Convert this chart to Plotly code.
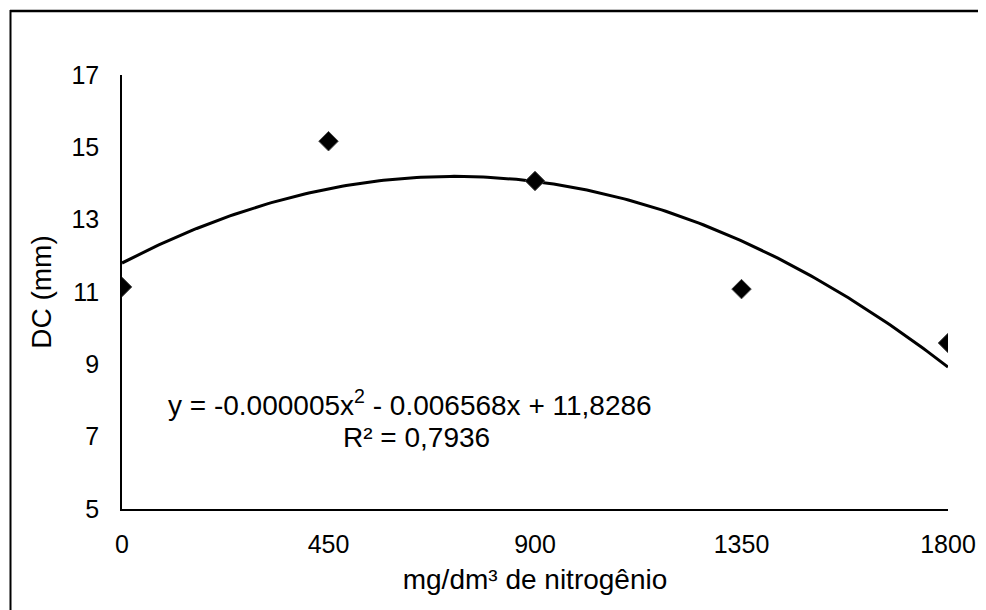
import numpy as np
import plotly.graph_objects as go

# Data
nitrogen = [0, 450, 900, 1350, 1800]
dc_mm = [11.14, 15.17, 14.07, 11.08, 9.59]
x_ticks = [0, 450, 900, 1350, 1800]
y_ticks = [5, 7, 9, 11, 13, 15, 17]
equation_text = "y = -0.000005x<sup>2</sup> - 0.006568x + 11,8286"
r2_text = "R² = 0,7936"

# Polynomial (order 2) trendline fitted to the data
coef = np.polyfit(nitrogen, dc_mm, 2)
xf = np.linspace(min(nitrogen), max(nitrogen), 200)
yf = np.polyval(coef, xf)

FONT = "Liberation Sans, Arial, sans-serif"
OFF = 8  # page body margin
W, H = 986, 610
L, T = 122 - OFF, 75 - OFF
R = W - (948 - OFF)
B = H - (509 - OFF)
pw, ph = W - L - R, H - T - B


def px(x):
    return (x - OFF - L) / pw


def py(y):
    return 1 - (y - OFF - T) / ph


fig = go.Figure()
fig.add_trace(go.Scatter(x=xf, y=yf, mode="lines",
                         line=dict(color="black", width=3), hoverinfo="skip"))
fig.add_trace(go.Scatter(x=nitrogen, y=dc_mm, mode="markers",
                         marker=dict(symbol="diamond", size=15, color="black",
                                     line=dict(color="#444444", width=1))))

# frame (left & top edges visible)
fig.add_shape(type="line", xref="paper", yref="paper", x0=px(10), x1=1.3, y0=py(11), y1=py(11),
              line=dict(color="black", width=2.5))
fig.add_shape(type="line", xref="paper", yref="paper", x0=px(10.5), x1=px(10.5), y0=py(10), y1=-0.4,
              line=dict(color="black", width=2))

fig.add_annotation(x=px(410), y=py(423), xref="paper", yref="paper",
                   text=equation_text, showarrow=False, font=dict(size=28, color="black", family=FONT))
fig.add_annotation(x=px(416), y=py(455), xref="paper", yref="paper",
                   text=r2_text, showarrow=False, font=dict(size=28, color="black", family=FONT))

fig.update_layout(
    width=W, height=H,
    margin=dict(l=L, r=R, t=T, b=B),
    paper_bgcolor="white", plot_bgcolor="white",
    showlegend=False,
    font=dict(family=FONT, size=25, color="black"),
    xaxis=dict(range=[0, 1800], tickvals=x_ticks, ticktext=[str(v) for v in x_ticks],
               showgrid=False, zeroline=False, showline=True, linecolor="black", linewidth=2,
               ticks="", ticklabelstandoff=12,
               title=dict(text="mg/dm³ de nitrogênio", font=dict(size=28), standoff=12)),
    yaxis=dict(range=[5, 17], tickvals=y_ticks, ticktext=[str(v) for v in y_ticks],
               showgrid=False, zeroline=False, showline=True, linecolor="black", linewidth=1.5,
               ticks="", ticklabelstandoff=16,
               title=dict(text="DC (mm)", font=dict(size=28), standoff=12)),
)

fig.write_html("out.html")
